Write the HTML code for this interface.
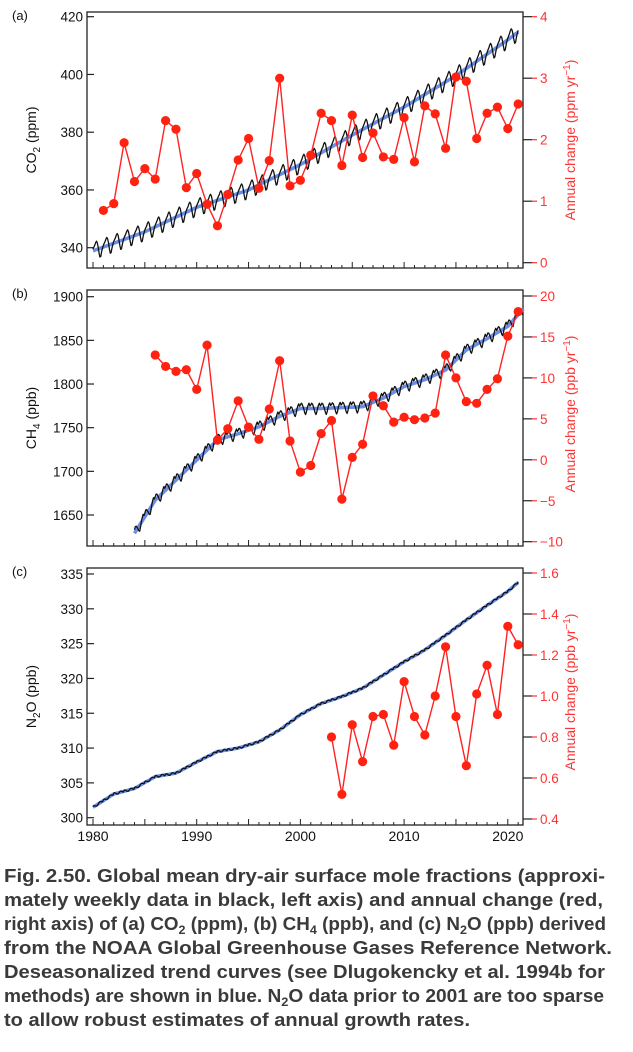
<!DOCTYPE html>
<html><head><meta charset="utf-8"><style>
html,body{margin:0;padding:0;background:#fff;}
svg{display:block;font-family:"Liberation Sans",Arial,sans-serif;}
</style></head><body>
<svg id="fig" width="633" height="1052" viewBox="0 0 633 1052" xmlns="http://www.w3.org/2000/svg">
<g id="charts"></g>
<g id="caption" font-weight="bold" font-size="18" fill="#3a3a3c">
<text x="4" y="882" textLength="601" lengthAdjust="spacingAndGlyphs">Fig. 2.50. Global mean dry-air surface mole fractions (approxi-</text>
<text x="4" y="906" textLength="599" lengthAdjust="spacingAndGlyphs">mately weekly data in black, left axis) and annual change (red,</text>
<text x="4" y="930" textLength="602" lengthAdjust="spacingAndGlyphs">right axis) of (a) CO<tspan font-size="12" dy="4">2</tspan><tspan dy="-4"> (ppm), (b) CH</tspan><tspan font-size="12" dy="4">4</tspan><tspan dy="-4"> (ppb), and (c) N</tspan><tspan font-size="12" dy="4">2</tspan><tspan dy="-4">O (ppb) derived</tspan></text>
<text x="4" y="954" textLength="608" lengthAdjust="spacingAndGlyphs">from the NOAA Global Greenhouse Gases Reference Network.</text>
<text x="4" y="978" textLength="601" lengthAdjust="spacingAndGlyphs">Deseasonalized trend curves (see Dlugokencky et al. 1994b for</text>
<text x="4" y="1002" textLength="600" lengthAdjust="spacingAndGlyphs">methods) are shown in blue. N<tspan font-size="12" dy="4">2</tspan><tspan dy="-4">O data prior to 2001 are too sparse</tspan></text>
<text x="4" y="1026" textLength="466" lengthAdjust="spacingAndGlyphs">to allow robust estimates of annual growth rates.</text>
</g>
</svg>
<script>
// ---- data ----
const co2Years = [1980,1985,1990,1995,2000,2005,2010,2015,2020,2021];
const co2Trend = [338.9,345.5,354.0,360.0,368.8,379.0,388.7,399.6,412.0,414.7];
const co2Season = [0.6,1.2,1.7,2.5,2.9,2.2,0.6,-1.4,-3.0,-2.9,-1.4,-0.3];
const co2GrowthYears = [1981,1982,1983,1984,1985,1986,1987,1988,1989,1990,1991,1992,1993,1994,1995,1996,1997,1998,1999,2000,2001,2002,2003,2004,2005,2006,2007,2008,2009,2010,2011,2012,2013,2014,2015,2016,2017,2018,2019,2020,2021];
const co2Growth = [0.85,0.96,1.95,1.32,1.53,1.36,2.31,2.17,1.22,1.45,0.95,0.60,1.11,1.67,2.02,1.21,1.66,3.00,1.25,1.34,1.75,2.43,2.31,1.58,2.40,1.71,2.11,1.72,1.68,2.36,1.64,2.55,2.42,1.86,3.02,2.95,2.02,2.43,2.53,2.18,2.58];

const ch4Years = [1984,1986,1988,1990,1992,1994,1996,1998,2000,2002,2004,2006,2008,2010,2012,2014,2016,2018,2020,2021.5];
const ch4Trend = [1629,1667,1690,1713,1736,1743,1751,1763,1772,1772,1773,1774,1784,1797,1805,1816,1839,1852,1866,1886];
const ch4Season = [4,6,5,2,-1,-5,-7,-4,1,4,6,3];
const ch4GrowthYears = [1986,1987,1988,1989,1990,1991,1992,1993,1994,1995,1996,1997,1998,1999,2000,2001,2002,2003,2004,2005,2006,2007,2008,2009,2010,2011,2012,2013,2014,2015,2016,2017,2018,2019,2020,2021];
const ch4Growth = [12.8,11.4,10.8,11.0,8.6,14.0,2.4,3.8,7.2,4.0,2.5,6.2,12.1,2.3,-1.5,-0.7,3.2,4.8,-4.8,0.3,1.9,7.8,6.6,4.6,5.2,4.9,5.1,5.7,12.8,10.0,7.1,6.9,8.6,9.9,15.1,18.1];

const n2oYears = [1980,1982,1984,1986,1988,1990,1992,1994,1996,1998,2000,2002,2004,2006,2008,2010,2012,2014,2016,2018,2020,2021];
const n2oTrend = [301.5,303.4,304.2,305.9,306.4,308.0,309.5,310.0,310.9,312.6,314.8,316.4,317.4,318.6,320.5,322.4,324.1,326.2,328.4,330.5,332.5,333.8];
const n2oSeason = [0.1,0.15,0.05,-0.05,-0.15,-0.15,-0.05,0.1,0.15,0.1,0,-0.1];
const n2oGrowthYears = [2003,2004,2005,2006,2007,2008,2009,2010,2011,2012,2013,2014,2015,2016,2017,2018,2019,2020,2021];
const n2oGrowth = [0.80,0.52,0.86,0.68,0.90,0.91,0.76,1.07,0.90,0.81,1.00,1.24,0.90,0.66,1.01,1.15,0.91,1.34,1.25];

const xTicks = [1980,1990,2000,2010,2020];
const co2LeftTicks = [340,360,380,400,420];
const co2RightTicks = [0,1,2,3,4];
const ch4LeftTicks = [1650,1700,1750,1800,1850,1900];
const ch4RightTicks = [-10,-5,0,5,10,15,20];
const n2oLeftTicks = [300,305,310,315,320,325,330,335];
const n2oRightTicks = [0.4,0.6,0.8,1.0,1.2,1.4,1.6];

// ---- drawing ----
const NS = "http://www.w3.org/2000/svg";
const root = document.getElementById('charts');
const X0 = 87, X1 = 523;
const xs = yr => 93 + (yr - 1980) * 10.37;
function mk(tag, attrs, parent){ const e=document.createElementNS(NS,tag); for(const k in attrs) e.setAttribute(k,attrs[k]); (parent||root).appendChild(e); return e; }
function interp(xa, ya, x){ if(x<=xa[0]) return ya[0]; for(let i=1;i<xa.length;i++){ if(x<=xa[i]){const t=(x-xa[i-1])/(xa[i]-xa[i-1]); return ya[i-1]+t*(ya[i]-ya[i-1]);} } return ya[ya.length-1]; }

function panel(cfg){
  const g = mk('g', {});
  
  
  const yl = v => cfg.top + (cfg.lMax - v) / (cfg.lMax - cfg.lMin) * (cfg.lBot - cfg.top);
  const yr = v => cfg.rTop + (cfg.rMax - v) / (cfg.rMax - cfg.rMin) * (cfg.rBot - cfg.rTop);
  const frame = mk('rect', {x:X0, y:cfg.boxTop, width:X1-X0, height:cfg.boxBot-cfg.boxTop, fill:'none', stroke:'#222', 'stroke-width':1.3}, g);
  
  
  const pl = mk('text', {x:12, y:cfg.boxTop+8, 'font-size':13, fill:'#111'}, g);
  pl.textContent = cfg.label;
  
  
  cfg.lTicks.forEach(t => {
    const y = yl(t);
    mk('line', {x1:X0, x2:X0+7, y1:y, y2:y, stroke:'#222', 'stroke-width':1.2}, g);
    const tx = mk('text', {x:X0-4, y:y+5, 'font-size':13.5, 'text-anchor':'end', fill:'#111'}, g);
    tx.textContent = t;
    
    
  });
  cfg.rTicks.forEach(t => {
    const y = yr(t);
    mk('line', {x1:X1, x2:X1+9, y1:y, y2:y, stroke:'#222', 'stroke-width':1.2}, g);
    mk('line', {x1:X1+9, x2:X1+14, y1:y, y2:y, stroke:'#f33', 'stroke-width':1.2}, g);
    const tx = mk('text', {x:X1+17, y:y+5, 'font-size':13.5, fill:'#f33'}, g);
    tx.textContent = cfg.rFmt ? cfg.rFmt(t) : (t<0 ? '\u2212'+(-t) : t);
    
    
  });
  for(let yrr=1980; yrr<=2021; yrr++){
    const x = xs(yrr);
    const major = yrr % 5 === 0;
    mk('line', {x1:x, x2:x, y1:cfg.boxBot, y2:cfg.boxBot-(major?6:3), stroke:'#222', 'stroke-width':1}, g);
  }
  if(cfg.xLabels){
    xTicks.forEach(t => {
      const tx = mk('text', {x:xs(t), y:cfg.boxBot+16, 'font-size':14, 'text-anchor':'middle', fill:'#111'}, g);
      tx.textContent = t;
      
      
    });
  }
  const mid = (cfg.boxTop + cfg.boxBot)/2;
  const lt = mk('text', {x:0, y:0, 'font-size':14, 'text-anchor':'middle', fill:'#111', transform:`translate(36,${mid}) rotate(-90)`}, g);
  lt.innerHTML = cfg.lTitle;
  
  
  const rt = mk('text', {x:0, y:0, 'font-size':14, 'text-anchor':'middle', fill:'#f33', transform:`translate(575,${cfg.rTitleY}) rotate(-90)`}, g);
  rt.innerHTML = cfg.rTitle;
  
  
  const t0 = cfg.years[0], t1 = cfg.years[cfg.years.length-1];
  let trendPts = [], dataPts = [];
  for(let t=t0; t<=t1+1e-9; t+=1/12){
    const v = interp(cfg.years, cfg.trend, t);
    trendPts.push(xs(t).toFixed(1)+','+yl(v).toFixed(1));
    const m = Math.round((t - Math.floor(t))*12) % 12;
    dataPts.push(xs(t).toFixed(1)+','+yl(v + cfg.season[m]).toFixed(1));
  }
  const tl = mk('polyline', {points:trendPts.join(' '), fill:'none', stroke:'#6a8ee6', 'stroke-width':3.5, 'stroke-linejoin':'round'}, g);
  
  
  const dl = mk('polyline', {points:dataPts.join(' '), fill:'none', stroke:'#111', 'stroke-width':1.3, 'stroke-linejoin':'round'}, g);
  
  
  const gp = cfg.gYears.map((y,i) => xs(y).toFixed(1)+','+yr(cfg.growth[i]).toFixed(1));
  const gl = mk('polyline', {points:gp.join(' '), fill:'none', stroke:'#f22', 'stroke-width':1.4}, g);
  
  
  cfg.gYears.forEach((y,i) => {
    const c = mk('circle', {cx:xs(y), cy:yr(cfg.growth[i]), r:4.6, fill:'#f21'}, g);
    
    
  });
}

panel({name:'co2-panel', label:'(a)', boxTop:12, boxBot:268, top:16.7, lBot:247.7, lMax:420, lMin:340,
  rTop:16.7, rBot:262.7, rMax:4, rMin:0, lTicks:co2LeftTicks, rTicks:co2RightTicks,
  years:co2Years, trend:co2Trend, season:co2Season, gYears:co2GrowthYears, growth:co2Growth,
  lTitle:'CO<tspan font-size="10" dy="4">2</tspan><tspan dy="-4"> (ppm)</tspan>', rTitle:'Annual change (ppm yr<tspan font-size="10" dy="-5">−1</tspan><tspan dy="5">)</tspan>', rTitleY:140, xLabels:false});
panel({name:'ch4-panel', label:'(b)', boxTop:290, boxBot:546, top:296.7, lBot:515, lMax:1900, lMin:1650,
  rTop:296, rBot:541.7, rMax:20, rMin:-10, lTicks:ch4LeftTicks, rTicks:ch4RightTicks,
  years:ch4Years, trend:ch4Trend, season:ch4Season, gYears:ch4GrowthYears, growth:ch4Growth,
  lTitle:'CH<tspan font-size="10" dy="4">4</tspan><tspan dy="-4"> (ppb)</tspan>', rTitle:'Annual change (ppb yr<tspan font-size="10" dy="-5">−1</tspan><tspan dy="5">)</tspan>', rTitleY:414, xLabels:false});
panel({name:'n2o-panel', label:'(c)', boxTop:568, boxBot:825, top:574, lBot:817.7, lMax:335, lMin:300,
  rTop:573, rBot:819, rMax:1.6, rMin:0.4, lTicks:n2oLeftTicks, rTicks:n2oRightTicks, rFmt:t=>t.toFixed(1),
  years:n2oYears, trend:n2oTrend, season:n2oSeason, gYears:n2oGrowthYears, growth:n2oGrowth,
  lTitle:'N<tspan font-size="10" dy="4">2</tspan><tspan dy="-4">O (ppb)</tspan>', rTitle:'Annual change (ppb yr<tspan font-size="10" dy="-5">−1</tspan><tspan dy="5">)</tspan>', rTitleY:692, xLabels:true});
</script>
</body></html>
